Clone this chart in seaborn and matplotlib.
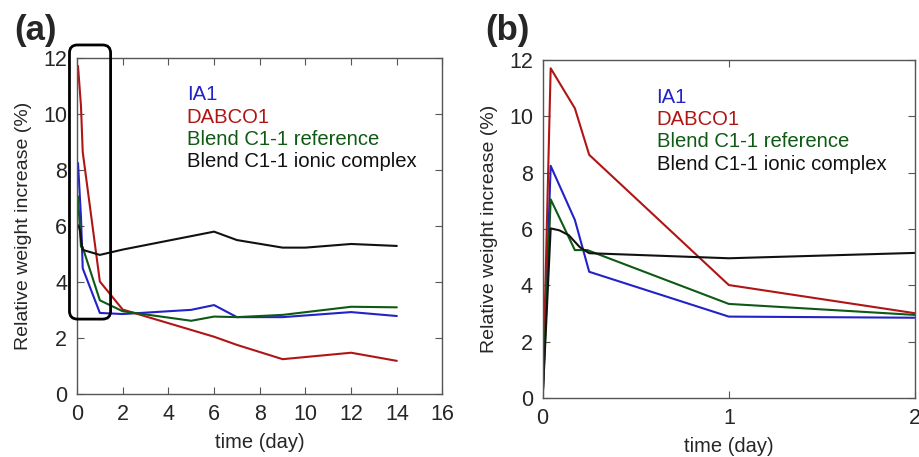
import pandas as pd
import matplotlib.pyplot as plt
import seaborn as sns
from matplotlib.patches import FancyBboxPatch

# Relative weight increase (%) vs time (day)
ia1_t = [0, 0.043, 0.173, 0.25, 1, 2, 5, 6, 7, 9, 12, 14]
ia1_y = [0, 8.24, 6.32, 4.48, 2.89, 2.85, 3.0, 3.17, 2.74, 2.74, 2.92, 2.78]
dabco_t = [0, 0.043, 0.173, 0.25, 1, 2, 6, 7, 9, 12, 14]
dabco_y = [0, 11.70, 10.28, 8.63, 4.01, 3.01, 2.04, 1.75, 1.24, 1.47, 1.18]
ref_t = [0, 0.043, 0.173, 0.24, 1, 2, 5, 6, 7, 9, 12, 14]
ref_y = [0, 7.05, 5.25, 5.25, 3.34, 2.95, 2.61, 2.76, 2.74, 2.82, 3.11, 3.09]
ionic_t = [0, 0.043, 0.09, 0.14, 0.2, 0.25, 1, 2, 6, 7, 9, 10, 12, 14]
ionic_y = [0, 6.02, 5.95, 5.78, 5.35, 5.14, 4.96, 5.15, 5.79, 5.49, 5.22, 5.22, 5.35, 5.28]

names = ["IA1", "DABCO1", "Blend C1-1 reference", "Blend C1-1 ionic complex"]
colours = {"IA1": "#2222C8", "DABCO1": "#B01515",
           "Blend C1-1 reference": "#0E5A14", "Blend C1-1 ionic complex": "#111111"}

frames = []
for name, t, y in zip(names, [ia1_t, dabco_t, ref_t, ionic_t], [ia1_y, dabco_y, ref_y, ionic_y]):
    frames.append(pd.DataFrame({"time": t, "value": y, "series": name}))
df = pd.concat(frames, ignore_index=True)

sns.set_style("ticks")
plt.rcParams["font.family"] = ["Liberation Sans", "DejaVu Sans"]

fig = plt.figure(figsize=(9.19, 4.57), dpi=100)
ax_a = fig.add_axes([0.0838, 0.138, 0.3977, 0.736])
ax_b = fig.add_axes([0.5905, 0.129, 0.4051, 0.740])

panels = [
    (ax_a, df[df["time"] > 0], (0, 16), range(0, 17, 2), 0.30),
    (ax_b, df[df["time"] <= 2], (0, 2), [0, 1, 2], 0.306),
]
for ax, data, xlim, xt, leg_x in panels:
    sns.lineplot(data=data, x="time", y="value", hue="series", hue_order=names,
                 palette=colours, estimator=None, errorbar=None, linewidth=1.5, ax=ax)
    ax.set_xlim(*xlim)
    ax.set_ylim(0, 12)
    ax.set_xticks(list(xt))
    ax.set_yticks(range(0, 13, 2))
    ax.tick_params(direction="in", top=True, right=True, length=5, width=0.8,
                   color="#555555", labelsize=15.5, pad=7)
    for s in ax.spines.values():
        s.set_color("#555555")
        s.set_linewidth(1.0)
    ax.set_xlabel("time (day)", fontsize=14.5, labelpad=6)
    ax.set_ylabel("Relative weight increase (%)", fontsize=14, labelpad=8)
    leg = ax.legend(handlelength=0, handletextpad=0, frameon=False, fontsize=14.6,
                    loc="upper left", bbox_to_anchor=(leg_x, 0.917),
                    borderpad=0, borderaxespad=0, labelspacing=0.16, labelcolor="linecolor")
    for h in leg.legend_handles:
        h.set_visible(False)

# rounded box highlighting the first day in panel (a)
box = FancyBboxPatch((-0.33, 2.67), 1.80, 9.78,
                     boxstyle="round,pad=0,rounding_size=0.35", mutation_aspect=22.8 / 28.04,
                     transform=ax_a.transData, fill=False, edgecolor="black",
                     linewidth=2, clip_on=False, zorder=5)
ax_a.add_patch(box)

fig.text(0.016, 0.934, "(a)", fontsize=25, fontweight="bold", va="center")
fig.text(0.528, 0.934, "(b)", fontsize=25, fontweight="bold", va="center")

plt.savefig("out.png", dpi=100)
plt.close()
